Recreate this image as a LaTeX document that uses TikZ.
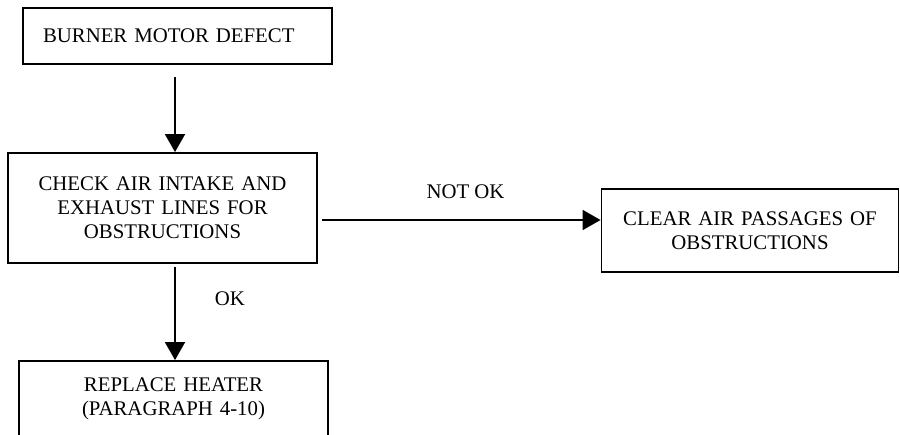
\documentclass[tikz,border=0pt]{standalone}
\usepackage{fontspec}
\setmainfont{Liberation Serif}
\usetikzlibrary{arrows.meta}
\begin{document}
\begin{tikzpicture}[x=1pt,y=-1pt,line width=1.8pt,>={Triangle[length=18pt,width=20pt]},font=\fontsize{20.8}{24}\selectfont]
	\tikzset{stepbox/.style={draw,text width=289pt,inner xsep=10pt,inner ysep=0pt,align=center}}
	\useasboundingbox (0,0) rectangle (900,434);
	\node[stepbox,text width=269pt,inner xsep=20pt,align=left,minimum height=56pt] (defect) at (177.5,36) {BURNER MOTOR DEFECT};
	\node[stepbox,minimum height=110pt] (check) at (162.5,208) {CHECK AIR INTAKE AND\\EXHAUST LINES FOR\\OBSTRUCTIONS};
	\node[stepbox,minimum height=75pt] (replace) at (173.5,398.5) {REPLACE HEATER\\(PARAGRAPH 4-10)};
	\node[stepbox,text width=277pt,minimum height=83pt] (clear) at (750,230.5) {CLEAR AIR PASSAGES OF\\OBSTRUCTIONS};
	\coordinate (a1) at (175,77);
	\coordinate (a2) at (175,267);
	\coordinate (a3) at (322,220);
	\draw[->] (a1) -- (a1 |- check.north);
	\draw[->] (a2) -- (a2 |- replace.north);
	\draw[->] (a3) -- (a3 -| clear.west);
	\node (ok) at (230,299) {OK};
	\node (notok) at (465.5,192) {NOT OK};
\end{tikzpicture}
\end{document}
